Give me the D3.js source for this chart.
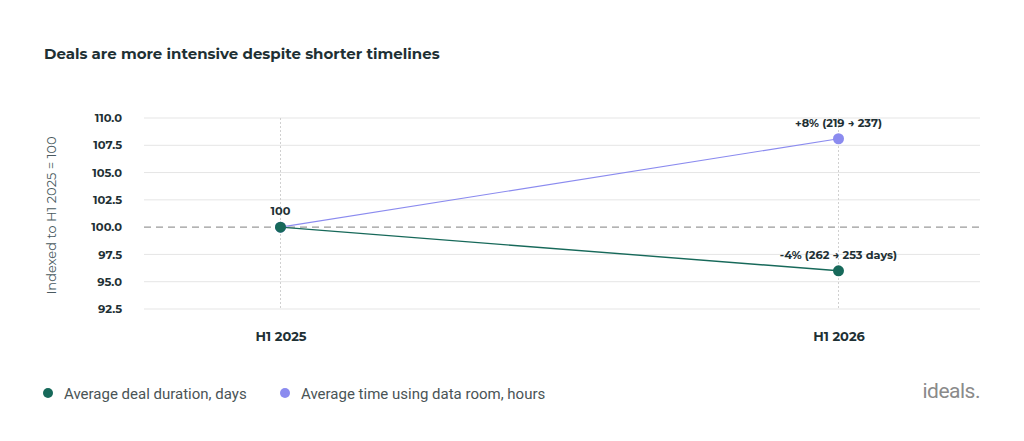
<!DOCTYPE html>
<html><head><meta charset="utf-8">
<script src="https://cdn.jsdelivr.net/npm/d3@7"></script>
<style>
body{margin:0;background:#fff;}
svg{display:block;}
</style></head>
<body>
<svg id="chart" width="1024" height="441"></svg>
<script>
const categories = ["H1 2025", "H1 2026"];
const durationValues = [100, 96.0];
const dataRoomValues = [100, 108.1];
const seriesNames = ["Average deal duration, days", "Average time using data room, hours"];
const durationLabels = ["100", "-4% (262 → 253 days)"];
const dataRoomLabels = ["", "+8% (219 → 237)"];
const yTicks = [92.5, 95.0, 97.5, 100.0, 102.5, 105.0, 107.5, 110.0];
const title = "Deals are more intensive despite shorter timelines";
const yTitle = "Indexed to H1 2025 = 100";

const colors = ["#17695a", "#8b8bef"];
const textDark = "#1e3034";
const svg = d3.select("#chart");
const font = "Montserrat, 'Open Sans', 'DejaVu Sans', sans-serif";

const pLeft = 144, pRight = 980, pTop = 118, pBottom = 309;
const x = d3.scalePoint().domain(categories).range([141, 978]).padding(0.25);
const y = d3.scaleLinear().domain([92.5, 110]).range([pBottom, pTop]);

svg.append("text").attr("x", 44).attr("y", 59).text(title)
  .attr("font-family", font).attr("font-weight", 700).attr("font-size", 15).attr("fill", textDark);

// horizontal grid
svg.append("g").selectAll("line").data(yTicks.filter(d => d !== 100)).join("line")
  .attr("x1", pLeft).attr("x2", pRight).attr("y1", d => y(d)).attr("y2", d => y(d))
  .attr("stroke", "#e5e5e5").attr("stroke-width", 1);
// vertical dotted grid
svg.append("g").selectAll("line").data(categories).join("line")
  .attr("x1", d => x(d)).attr("x2", d => x(d)).attr("y1", pTop).attr("y2", pBottom)
  .attr("stroke", "#d0d0d0").attr("stroke-width", 1).attr("stroke-dasharray", "2,2");
// baseline dashed
svg.append("line").attr("x1", pLeft).attr("x2", pRight).attr("y1", y(100)).attr("y2", y(100))
  .attr("stroke", "#9a9a9a").attr("stroke-width", 1.2).attr("stroke-dasharray", "7,5");

// y axis
const yAxis = d3.axisLeft(y).tickValues(yTicks).tickFormat(d3.format(".1f")).tickSize(0).tickPadding(0);
const gy = svg.append("g").attr("transform", `translate(122,0)`).call(yAxis);
gy.select(".domain").remove();
gy.selectAll("text").attr("font-family", font).attr("font-weight", 700).attr("font-size", 11.5).attr("fill", textDark);

svg.append("text").attr("transform", `translate(56,${(pTop + pBottom) / 2 + 2}) rotate(-90)`)
  .attr("text-anchor", "middle").text(yTitle)
  .attr("font-family", font).attr("font-size", 13).attr("fill", "#4a5a60");

// x axis
const xAxis = d3.axisBottom(x).tickSize(0).tickPadding(0);
const gx = svg.append("g").attr("transform", `translate(0,332)`).call(xAxis);
gx.select(".domain").remove();
gx.selectAll("text").attr("font-family", font).attr("font-weight", 700).attr("font-size", 13).attr("fill", textDark);

const series = [
  categories.map((c, i) => ({ c, v: durationValues[i], label: durationLabels[i] })),
  categories.map((c, i) => ({ c, v: dataRoomValues[i], label: dataRoomLabels[i] }))
];
const line = d3.line().x(d => x(d.c)).y(d => y(d.v));
const widths = [1.4, 1.1];
[1, 0].forEach(s => {
  svg.append("path").datum(series[s]).attr("d", line).attr("fill", "none")
    .attr("stroke", colors[s]).attr("stroke-width", widths[s]);
});
[1, 0].forEach(s => {
  svg.append("g").selectAll("circle").data(series[s]).join("circle")
    .attr("cx", d => x(d.c)).attr("cy", d => y(d.v)).attr("r", 5.5)
    .attr("fill", colors[s]);
  svg.append("g").selectAll("text").data(series[s].filter(d => d.label)).join("text")
    .attr("x", d => x(d.c)).attr("y", d => y(d.v) - 12)
    .attr("text-anchor", "middle")
    .text(d => d.label)
    .attr("font-family", font).attr("font-weight", 700).attr("font-size", 11.3).attr("fill", textDark);
});

// legend
const legX = [48, 285];
seriesNames.forEach((n, i) => {
  svg.append("circle").attr("cx", legX[i]).attr("cy", 393).attr("r", 5).attr("fill", colors[i]);
  svg.append("text").attr("x", legX[i] + 16).attr("y", 398.5).text(n)
    .attr("font-family", "Roboto, 'Liberation Sans', sans-serif").attr("font-size", 15).attr("fill", "#4a5456");
});
svg.append("text").attr("x", 980).attr("y", 398).attr("text-anchor", "end").text("ideals.")
  .attr("font-family", "Roboto, sans-serif").attr("font-size", 21).attr("letter-spacing", -0.5).attr("fill", "#8a8a8a");
</script>
</body></html>
